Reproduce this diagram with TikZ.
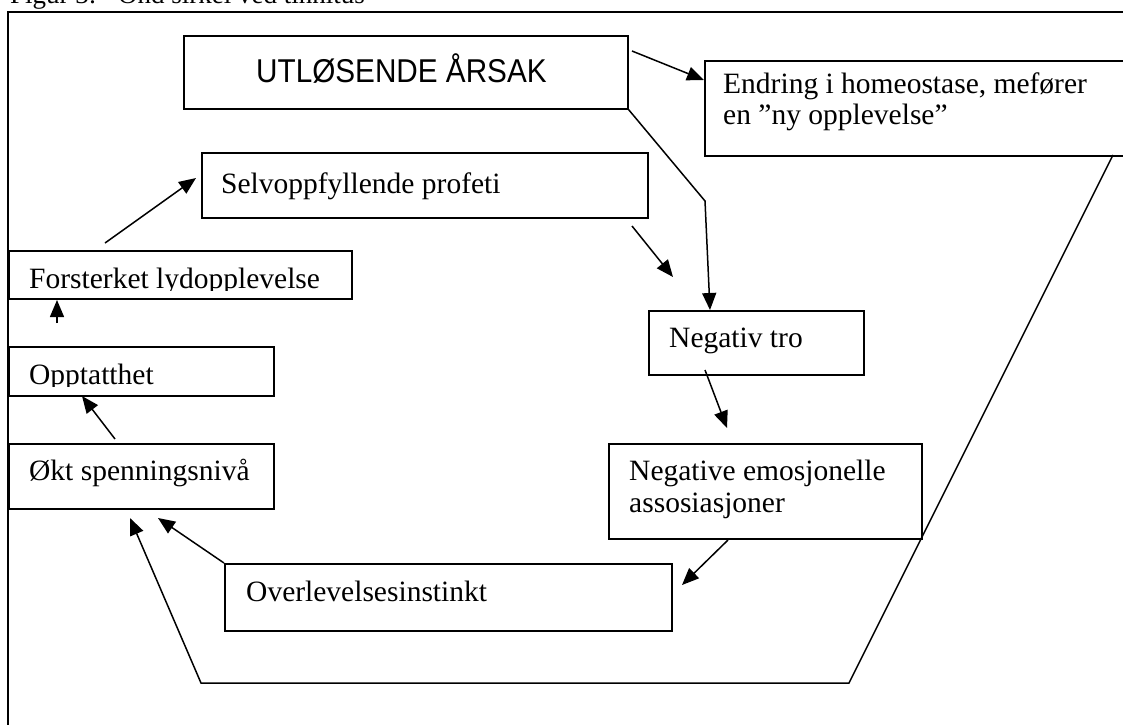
\documentclass[tikz,border=0pt]{standalone}
\usepackage{fontspec}
\setmainfont{Liberation Serif}
\newfontfamily\comicfont{Liberation Sans}[FakeStretch=0.9]
\usetikzlibrary{arrows.meta}
\begin{document}
\begin{tikzpicture}[x=1pt,y=-1pt,
  box/.style={draw,line width=1.5pt,inner sep=0pt,anchor=north west},
  lbl/.style={anchor=base west,inner sep=0pt,font=\fontsize{29.5}{32}\selectfont},
  arr/.style={line width=1.5pt,-{Triangle[length=17pt,width=14pt]}},
  plain/.style={line width=1.5pt}]
\useasboundingbox (0,0) rectangle (1123,724);
\clip (0,0) rectangle (1123,724);
% caption (cut off at the top, as in the reference)
\node[lbl,font=\fontsize{27}{30}\selectfont] (cap1) at (10,3) {Figur 3:};
\node[lbl,font=\fontsize{27}{30}\selectfont] (cap2) at (118,3) {Ond sirkel ved tinnitus};
% outer frame
\draw[line width=1.6pt] (8,740) -- (8,12) -- (1140,12);
% boxes
\node[box,minimum width=444pt,minimum height=73pt] (trig) at (183,35) {};
\node[box,minimum width=436pt,minimum height=95pt] (endr) at (704,60) {};
\node[box,minimum width=446pt,minimum height=65pt] (selv) at (201,152) {};
\node[box,minimum width=343pt,minimum height=48pt] (fors) at (8,250) {};
\node[box,minimum width=265pt,minimum height=49pt] (oppt) at (8,346) {};
\node[box,minimum width=265pt,minimum height=65pt] (okt) at (8,443) {};
\node[box,minimum width=215pt,minimum height=64pt] (negt) at (648,310) {};
\node[box,minimum width=313pt,minimum height=95pt] (nege) at (608,443) {};
\node[box,minimum width=447pt,minimum height=67pt] (over) at (224,563) {};
% texts
\node[lbl,font=\comicfont\fontsize{33}{35}\selectfont] (ttrig) at (256,82) {UTLØSENDE ÅRSAK};
\node[lbl] (tendr1) at (723,93) {Endring i homeostase, mefører};
\node[lbl] (tendr2) at (723,124) {en ”ny opplevelse”};
\node[lbl] (tselv) at (221,193) {Selvoppfyllende profeti};
\begin{scope}
\clip (10,252) rectangle (349,290);
\node[lbl] (tfors) at (29,288) {Forsterket lydopplevelse};
\end{scope}
\begin{scope}
\clip (10,348) rectangle (271,386);
\node[lbl] (toppt) at (29,384) {Opptatthet};
\end{scope}
\node[lbl] (tokt) at (29,480) {Økt spenningsnivå};
\node[lbl] (tnegt) at (669,347) {Negativ tro};
\node[lbl] (tnege1) at (629,480) {Negative emosjonelle};
\node[lbl] (tnege2) at (629,512) {assosiasjoner};
\node[lbl] (tover) at (246,601) {Overlevelsesinstinkt};
% connector points
\coordinate (a1s) at (632,51);   \coordinate (a1e) at (704,80);
\coordinate (a2m) at (705,201);  \coordinate (a2e) at (710,310);
\coordinate (a3s) at (105,243);  \coordinate (a3e) at (196,178);
\coordinate (a4s) at (632,226);  \coordinate (a4e) at (673,277);
\coordinate (a5s) at (705,370);  \coordinate (a5e) at (727,428);
\coordinate (a6s) at (728,540);  \coordinate (a6e) at (682,585);
\coordinate (a7e) at (158,518);
\coordinate (a8s) at (1113,155); \coordinate (a8m1) at (849,683);
\coordinate (a8m2) at (201,683); \coordinate (a8e) at (130,518);
\coordinate (a9s) at (115,439);  \coordinate (a9e) at (82,396);
\coordinate (a10s) at (57,323);  \coordinate (a10e) at (57,300);
% connectors
\draw[arr] (a1s) -- (a1e);
\draw[arr] (trig.south east) -- (a2m) -- (a2e);
\draw[arr] (a3s) -- (a3e);
\draw[arr] (a4s) -- (a4e);
\draw[arr] (a5s) -- (a5e);
\draw[arr] (a6s) -- (a6e);
\draw[arr] (over.north west) -- (a7e);
\draw[arr] (a8s) -- (a8m1) -- (a8m2) -- (a8e);
\draw[arr] (a9s) -- (a9e);
\draw[arr] (a10s) -- (a10e);
\end{tikzpicture}
\end{document}
